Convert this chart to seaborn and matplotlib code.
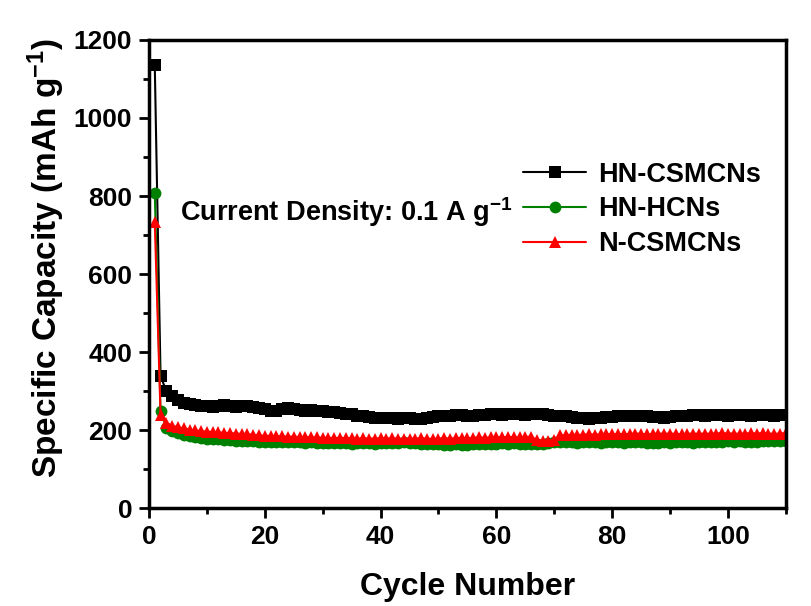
import matplotlib
matplotlib.use("Agg")
import matplotlib.pyplot as plt
from matplotlib.ticker import MultipleLocator
from matplotlib.lines import Line2D
import numpy as np
import pandas as pd
import seaborn as sns

# Cycling performance at 0.1 A g-1 (capacity in mAh g-1)
cycles = list(range(1, 111))

hn_csmcns = [
    1135, 338, 300, 286, 276, 270, 266, 263, 261, 262,
    260, 261, 263, 262, 260, 261, 262, 259, 256, 255,
    250, 248, 254, 256, 253, 251, 250, 252, 250, 249,
    247, 245, 243, 242, 240, 237, 235, 233, 232, 231,
    231, 230, 229, 230, 231, 229, 228, 230, 233, 235,
    236, 237, 238, 238, 237, 236, 238, 239, 240, 240,
    239, 240, 241, 240, 239, 240, 241, 240, 238, 236,
    235, 236, 234, 232, 230, 229, 230, 232, 233, 234,
    235, 236, 236, 235, 236, 235, 234, 233, 232, 233,
    235, 236, 237, 238, 238, 237, 238, 239, 238, 237,
    238, 239, 238, 237, 238, 239, 238, 237, 238, 239,
]

hn_hcns = [
    808, 250, 205, 197, 192, 188, 185, 182, 180, 178,
    177, 176, 175, 174, 173, 172, 172, 171, 170, 170,
    169, 170, 169, 168, 169, 168, 167, 168, 167, 166,
    167, 166, 167, 166, 165, 166, 167, 166, 165, 166,
    167, 166, 167, 168, 167, 166, 165, 164, 163, 164,
    162, 161, 163, 162, 161, 163, 164, 165, 164, 165,
    166, 165, 166, 165, 164, 163, 164, 165, 167, 168,
    168, 169, 168, 167, 168, 169, 168, 167, 168, 169,
    168, 167, 168, 169, 168, 167, 166, 167, 168, 167,
    168, 169, 168, 167, 168, 169, 170, 169, 170, 171,
    170, 171, 170, 169, 170, 171, 172, 171, 172, 172,
]

n_csmcns = [
    734, 238, 218, 211, 207, 204, 201, 199, 197, 196,
    195, 194, 193, 192, 191, 190, 189, 188, 186, 185,
    185, 184, 184, 183, 183, 182, 182, 181, 181, 180,
    180, 179, 180, 179, 179, 178, 179, 178, 178, 179,
    178, 179, 178, 177, 178, 178, 179, 178, 177, 178,
    179, 178, 179, 180, 179, 180, 181, 180, 181, 182,
    181, 182, 182, 181, 182, 183, 174, 172, 173, 175,
    186, 187, 188, 187, 188, 189, 188, 189, 190, 189,
    190, 189, 190, 191, 190, 189, 190, 191, 190, 191,
    190, 189, 190, 191, 190, 191, 190, 191, 192, 191,
    191, 190, 191, 192, 191, 192, 191, 190, 191, 192,
]

samples = ["HN-CSMCNs", "HN-HCNs", "N-CSMCNs"]
series = [hn_csmcns, hn_hcns, n_csmcns]
colors = ["#000000", "#008000", "#ff0000"]
markers = ["s", "o", "^"]

df = pd.concat(
    [pd.DataFrame({"Cycle": cycles, "Capacity": v, "Sample": s})
     for s, v in zip(samples, series)],
    ignore_index=True,
)

sns.set_theme(style="white")
plt.rcParams["font.family"] = ["Liberation Sans", "DejaVu Sans"]
plt.rcParams["font.weight"] = "bold"
for key in ("text.color", "axes.labelcolor", "xtick.color", "ytick.color",
            "axes.edgecolor"):
    plt.rcParams[key] = "black"
plt.rcParams["mathtext.fontset"] = "custom"
plt.rcParams["mathtext.rm"] = "Liberation Sans:bold"
plt.rcParams["mathtext.bf"] = "Liberation Sans:bold"
plt.rcParams["mathtext.default"] = "bf"

fig = plt.figure(figsize=(8.11, 6.06), dpi=100)
ax = fig.add_axes([0.1837, 0.1617, 0.7853, 0.7723])

sns.lineplot(
    data=df, x="Cycle", y="Capacity", hue="Sample", style="Sample",
    hue_order=samples, style_order=samples,
    palette=dict(zip(samples, colors)),
    markers=dict(zip(samples, markers)), dashes=False,
    markersize=8.5, linewidth=1.5, markeredgewidth=0,
    ax=ax, legend=False,
)

ax.set_xlim(0, 110)
ax.set_ylim(0, 1200)
ax.xaxis.set_major_locator(MultipleLocator(20))
ax.xaxis.set_minor_locator(MultipleLocator(10))
ax.yaxis.set_major_locator(MultipleLocator(200))
ax.yaxis.set_minor_locator(MultipleLocator(100))
ax.tick_params(which="both", direction="out", top=False, right=False,
               bottom=True, left=True, color="black", labelcolor="black")
ax.tick_params(which="major", length=7, width=2, labelsize=19, pad=5)
ax.tick_params(which="minor", length=4, width=2)
for lbl in ax.get_xticklabels() + ax.get_yticklabels():
    lbl.set_fontweight("bold")
for sp in ax.spines.values():
    sp.set_linewidth(2.5)
    sp.set_color("black")

ax.set_xlabel("Cycle Number", fontsize=23, fontweight="bold", labelpad=17)
ax.set_ylabel("Specific Capacity (mAh g$^{-1}$)", fontsize=24,
              fontweight="bold")
ax.yaxis.set_label_coords(-0.128, 0.534)

ax.text(0.048, 0.633, "Current Density: 0.1 A g$^{-1}$",
        transform=ax.transAxes, fontsize=19.5, fontweight="bold",
        va="center")

handles = [Line2D([], [], color=c, marker=m, markersize=8.5, linewidth=1.5,
                  markeredgewidth=0) for c, m in zip(colors, markers)]
leg = ax.legend(handles, samples, loc="center left",
                bbox_to_anchor=(0.588, 0.638), frameon=False,
                prop={"weight": "bold", "size": 19.5},
                handlelength=2.3, handletextpad=0.45, labelspacing=0.32,
                borderaxespad=0, borderpad=0)

fig.savefig("out.png", dpi=100, facecolor="white")
